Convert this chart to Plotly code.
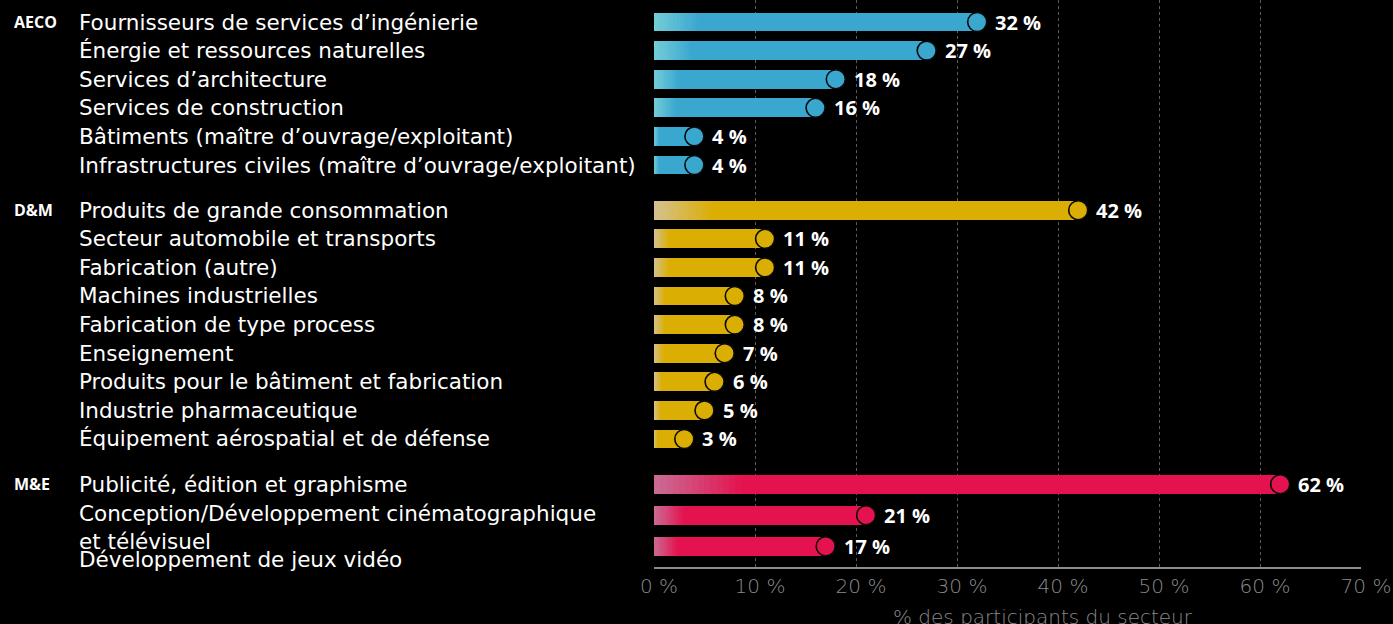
import plotly.graph_objects as go

# ---- data -------------------------------------------------------------
groups = ["AECO", "D&M", "M&E"]
categories_aeco = [
    "Fournisseurs de services d’ingénierie",
    "Énergie et ressources naturelles",
    "Services d’architecture",
    "Services de construction",
    "Bâtiments (maître d’ouvrage/exploitant)",
    "Infrastructures civiles (maître d’ouvrage/exploitant)",
]
values_aeco = [32, 27, 18, 16, 4, 4]

categories_dm = [
    "Produits de grande consommation",
    "Secteur automobile et transports",
    "Fabrication (autre)",
    "Machines industrielles",
    "Fabrication de type process",
    "Enseignement",
    "Produits pour le bâtiment et fabrication",
    "Industrie pharmaceutique",
    "Équipement aérospatial et de défense",
]
values_dm = [42, 11, 11, 8, 8, 7, 6, 5, 3]

categories_me = [
    "Publicité, édition et graphisme",
    "Conception/Développement cinématographique<br>et télévisuel",
    "Développement de jeux vidéo",
]
values_me = [62, 21, 17]

x_tick_values = [0, 10, 20, 30, 40, 50, 60, 70]
x_tick_labels = ["0 %", "10 %", "20 %", "30 %", "40 %", "50 %", "60 %", "70 %"]
x_axis_title = "% des participants du secteur"

# ---- styling ----------------------------------------------------------
group_cats = [categories_aeco, categories_dm, categories_me]
group_vals = [values_aeco, values_dm, values_me]
group_colors = ["#3aa7cf", "#dbae03", "#e4134f"]
group_light = ["#74cdd8", "#d4c190", "#c96d96"]
group_step = [1.0, 1.0, 1.085]
group_gap = 1.58
bar_width = 0.66
fade_share = 0.14      # share of each bar length covered by the left fade
fade_steps = 14

FONT = "DejaVu Sans"
BOLD_FONT = "Open Sans"


def mix(c1, c2, t):
    a = [int(c1[i:i + 2], 16) for i in (1, 3, 5)]
    b = [int(c2[i:i + 2], 16) for i in (1, 3, 5)]
    return "rgb({},{},{})".format(*[round(a[i] + (b[i] - a[i]) * t) for i in range(3)])


# row positions on a reversed numeric axis
rows = []   # (group index, label, value, y)
pos = 0.0
for gi, (cats, vals) in enumerate(zip(group_cats, group_vals)):
    for j, (c, v) in enumerate(zip(cats, vals)):
        rows.append((gi, c, v, pos))
        pos += group_step[gi]
    pos += group_gap - group_step[gi]

ys = [r[3] for r in rows]
vals = [r[2] for r in rows]
gidx = [r[0] for r in rows]

fig = go.Figure()

# faded left part of each bar, built from thin stacked slices
for k in range(fade_steps):
    t = (k + 0.5) / fade_steps
    fig.add_trace(go.Bar(
        y=ys,
        x=[v * fade_share / fade_steps for v in vals],
        base=[v * fade_share * k / fade_steps for v in vals],
        orientation="h",
        width=bar_width,
        marker=dict(color=[mix(group_light[g], group_colors[g], t) for g in gidx],
                    line=dict(width=0)),
        hoverinfo="skip",
        showlegend=False,
    ))

# solid remainder of each bar
fig.add_trace(go.Bar(
    y=ys,
    x=[v * (1 - fade_share) for v in vals],
    base=[v * fade_share for v in vals],
    orientation="h",
    width=bar_width,
    marker=dict(color=[group_colors[g] for g in gidx], line=dict(width=0)),
    hovertemplate="%{customdata} %%<extra></extra>",
    customdata=vals,
    showlegend=False,
))

# round caps at the bar ends
fig.add_trace(go.Scatter(
    y=ys,
    x=vals,
    mode="markers",
    marker=dict(size=19, color=[group_colors[g] for g in gidx],
                line=dict(color="#0a0a0a", width=1.6)),
    hoverinfo="skip",
    showlegend=False,
))

annotations = []
# value labels
for gi, c, v, y in rows:
    annotations.append(dict(
        x=v, y=y, xref="x", yref="y", text=f"<b>{v} %</b>",
        xanchor="left", yanchor="middle", xshift=16, showarrow=False,
        font=dict(family=BOLD_FONT, size=20, color="#ffffff"),
    ))

# category labels, left aligned in the margin
label_x = (77 - 654) / 707
for gi, c, v, y in rows:
    yshift = 0
    if "<br>" in c:
        yshift = -12
    elif gi == 2 and c == group_cats[2][-1]:
        yshift = -13
    annotations.append(dict(
        x=label_x, y=y, xref="paper", yref="y", text=c,
        xanchor="left", yanchor="middle", yshift=yshift, align="left",
        showarrow=False,
        font=dict(family=FONT, size=21.5, color="#ffffff"),
    ))

# group labels
group_x = (12 - 654) / 707
for gi, g in enumerate(groups):
    first_y = next(r[3] for r in rows if r[0] == gi)
    annotations.append(dict(
        x=group_x, y=first_y, xref="paper", yref="y", text=f"<b>{g}</b>",
        xanchor="left", yanchor="middle", showarrow=False,
        font=dict(family=BOLD_FONT, size=16, color="#ffffff"),
    ))

# axis title
annotations.append(dict(
    x=38.5, y=0, xref="x", yref="paper", text=x_axis_title,
    xanchor="center", yanchor="top", yshift=-36, showarrow=False,
    font=dict(family=FONT, size=20, color="#8a8a8a", weight=300),
))

y_top = -22 / 28.6
y_bottom = y_top + 567 / 28.6

fig.update_layout(
    width=1393, height=624,
    paper_bgcolor="#000000", plot_bgcolor="#000000",
    margin=dict(l=654, r=32, t=0, b=57),
    barmode="overlay",
    bargap=0,
    annotations=annotations,
    xaxis=dict(
        range=[0, 70], tickvals=x_tick_values, ticktext=x_tick_labels,
        showgrid=True, gridcolor="#5a5a5a", griddash="dot", gridwidth=1,
        zeroline=False, showline=True, linecolor="#8c8c8c", linewidth=2,
        ticks="", ticklabelshift=5,
        tickfont=dict(family=FONT, size=20, color="#8a8a8a", weight=300),
        fixedrange=True,
    ),
    yaxis=dict(
        range=[y_bottom, y_top], showgrid=False, zeroline=False,
        showticklabels=False, showline=False, fixedrange=True,
    ),
)

fig.write_html("out.html")
